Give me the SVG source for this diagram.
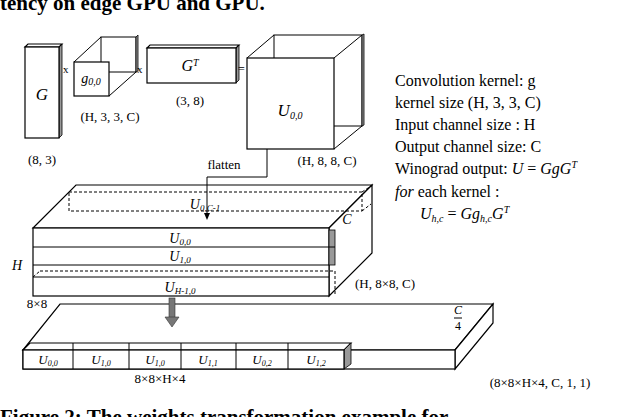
<svg xmlns="http://www.w3.org/2000/svg" width="640" height="417" viewBox="0 0 640 417">
<style>
.b{fill:#fff;stroke:#000;stroke-width:1.2}
.s{fill:#999;stroke:#000;stroke-width:0.8}
.l{fill:none;stroke:#000;stroke-width:1}
.d{fill:none;stroke:#000;stroke-width:1;stroke-dasharray:3,2}
text{font-family:"Liberation Serif",serif;fill:#000}
.t{font-size:13px}
.i{font-style:italic}
.r{font-size:16px}
.cap{font-size:21px;font-weight:bold}
</style>
<rect width="640" height="417" fill="#fff"/>
<text class="cap" x="0" y="10">tency on edge GPU and GPU.</text>
<text class="cap" x="0" y="424">Figure 2: The weights transformation example for</text>

<g id="G">
<polygon class="s" points="59,47 62,44 62,135 59,138"/>
<polygon class="b" points="25,47 28,44 62,44 59,47"/>
<rect class="b" x="25" y="47" width="34" height="91"/>
<text class="i" x="42" y="100" font-size="17" text-anchor="middle">G</text>
<text class="t" x="42" y="164" text-anchor="middle">(8, 3)</text>
</g>
<text x="63" y="73" font-family="Liberation Sans,sans-serif" font-size="11">x</text>
<g id="g">
<rect class="l" x="101" y="37" width="35" height="35"/>
<line class="l" x1="74" y1="62" x2="101" y2="37"/><line class="l" x1="109" y1="96" x2="136" y2="72"/>
<line class="l" x1="74" y1="96" x2="101" y2="72"/>
<polygon class="s" points="136,37 138,35 138,71 136,72"/>
<rect class="b" x="74" y="62" width="35" height="34" fill="none"/>
<text class="i" font-size="14" x="91" y="83" text-anchor="middle">g<tspan font-size="10" dy="2">0,0</tspan></text>
<text class="t" x="110" y="121" text-anchor="middle">(H, 3, 3, C)</text>
</g>
<text x="137" y="73" font-family="Liberation Sans,sans-serif" font-size="11">x</text>
<g id="GT">
<polygon class="s" points="236,48 239,45 239,80 236,83"/>
<polygon class="b" points="147,48 150,45 239,45 236,48"/>
<rect class="b" x="147" y="48" width="89" height="35"/>
<text class="i" x="190" y="71" font-size="16" text-anchor="middle">G<tspan font-size="10" dy="-5">T</tspan></text>
<text class="t" x="190" y="105" text-anchor="middle">(3, 8)</text>
</g>
<text x="238" y="73" font-family="Liberation Sans,sans-serif" font-size="12">=</text>
<g id="U">
<rect class="l" x="274" y="35" width="88" height="91"/>
<polygon class="s" points="362,35 364,34 364,125 362,126"/>
<line class="l" x1="247" y1="58" x2="274" y2="35"/><line class="l" x1="334" y1="58" x2="362" y2="35"/>
<line class="l" x1="334" y1="149" x2="362" y2="126"/>
<rect class="b" x="247" y="58" width="87" height="91"/>
<text class="i" x="290" y="116" font-size="17" text-anchor="middle">U<tspan font-size="10" dy="3">0,0</tspan></text>
<text class="t" x="327" y="165" text-anchor="middle">(H, 8, 8, C)</text>
</g>
<text class="t" x="224" y="169" text-anchor="middle">flatten</text>

<g id="stack">
<polygon class="b" points="33,228 76,185 372,185 329,228"/>
<polygon class="b" points="329,228 372,185 372,253 329,296"/>
<rect class="d" x="69" y="192" width="293" height="19"/>
<line class="d" x1="362" y1="192" x2="371" y2="186"/>
<line class="d" x1="362" y1="211" x2="371" y2="204"/>
<text class="i" font-size="14" x="205" y="209" text-anchor="middle">U<tspan font-size="9" dy="2">0,C-1</tspan></text>
<rect class="b" x="33" y="228" width="296" height="68"/>
<rect class="s" x="329" y="230" width="6" height="35" fill="#bbb"/>
<line class="l" x1="329" y1="247" x2="335" y2="247"/>
<line class="l" x1="33" y1="247" x2="329" y2="247"/>
<line class="l" x1="33" y1="265" x2="329" y2="265"/>
<line class="d" x1="40" y1="271" x2="335" y2="271"/>
<line class="d" x1="33" y1="277" x2="40" y2="271"/>
<line class="d" x1="335" y1="271" x2="335" y2="296"/>
<line class="l" x1="33" y1="277" x2="329" y2="277"/>
<text class="i" font-size="14" x="180" y="243" text-anchor="middle">U<tspan font-size="9" dy="2">0,0</tspan></text>
<text class="i" font-size="14" x="180" y="261" text-anchor="middle">U<tspan font-size="9" dy="2">1,0</tspan></text>
<text class="i" font-size="14" x="180" y="292" text-anchor="middle">U<tspan font-size="9" dy="2">H-1,0</tspan></text>
<text class="i" font-size="14" x="347" y="224" text-anchor="middle">C</text>
<text class="i" font-size="14" x="17" y="270" text-anchor="middle">H</text>
<text class="t" x="355" y="288">(H, 8×8, C)</text>
<text class="t" x="37" y="308" text-anchor="middle">8×8</text>
</g>

<g id="slab">
<polygon class="b" points="23,350 60,304 493,304 455,350"/>
<polygon class="b" points="455,350 493,304 493,323 455,369"/>
<rect class="b" x="23" y="350" width="432" height="19"/>
<polygon class="b" points="23,350 30,343 351,343 344,350"/>
<polygon class="s" points="344,350 351,343 351,364 344,369" fill="#bbb"/>
<rect class="b" x="23" y="350" width="321" height="19"/>
<g class="l">
<line x1="73" y1="343" x2="73" y2="369"/><line x1="129" y1="343" x2="129" y2="369"/>
<line x1="181" y1="343" x2="181" y2="369"/><line x1="236" y1="343" x2="236" y2="369"/>
<line x1="288" y1="343" x2="288" y2="369"/>
</g>
<text class="i" font-size="13" x="48" y="364" text-anchor="middle">U<tspan font-size="8" dy="2">0,0</tspan></text>
<text class="i" font-size="13" x="101" y="364" text-anchor="middle">U<tspan font-size="8" dy="2">1,0</tspan></text>
<text class="i" font-size="13" x="155" y="364" text-anchor="middle">U<tspan font-size="8" dy="2">1,0</tspan></text>
<text class="i" font-size="13" x="208" y="364" text-anchor="middle">U<tspan font-size="8" dy="2">1,1</tspan></text>
<text class="i" font-size="13" x="262" y="364" text-anchor="middle">U<tspan font-size="8" dy="2">0,2</tspan></text>
<text class="i" font-size="13" x="316" y="364" text-anchor="middle">U<tspan font-size="8" dy="2">1,2</tspan></text>
<text class="i" font-size="12" x="458" y="314" text-anchor="middle">C</text>
<line class="l" x1="454" y1="318" x2="462" y2="318"/>
<text font-size="12" x="458" y="330" text-anchor="middle">4</text>
<text class="t" x="160" y="383" text-anchor="middle">8×8×H×4</text>
<text class="t" x="540" y="387" text-anchor="middle">(8×8×H×4, C, 1, 1)</text>
</g>

<g id="legend">
<text class="r" x="395" y="86">Convolution kernel: g</text>
<text class="r" x="395" y="108">kernel size (H, 3, 3, C)</text>
<text class="r" x="395" y="130">Input channel size : H</text>
<text class="r" x="395" y="152">Output channel size: C</text>
<text class="r" x="395" y="174">Winograd output: <tspan font-style="italic">U</tspan> = <tspan font-style="italic">GgG<tspan font-size="10" dy="-6">T</tspan></tspan></text>
<text class="r" x="395" y="197"><tspan font-style="italic">for</tspan> each kernel :</text>
<text class="r i" x="420" y="219">U<tspan font-size="10" dy="3">h,c</tspan><tspan dy="-3" font-style="normal"> = </tspan>Gg<tspan font-size="10" dy="3">h,c</tspan><tspan dy="-3">G</tspan><tspan font-size="10" dy="-6">T</tspan></text>
</g>

<g id="connectors">
<polyline class="l" points="267,149 267,177 207,177 207,214"/>
<polygon points="204,213 210,213 207,220"/>
<rect x="169" y="298" width="6" height="20" fill="#777" stroke="#333" stroke-width="0.6"/>
<polygon points="165,317 179,317 172,327" fill="#777" stroke="#333" stroke-width="0.6"/>
</g>
</svg>
